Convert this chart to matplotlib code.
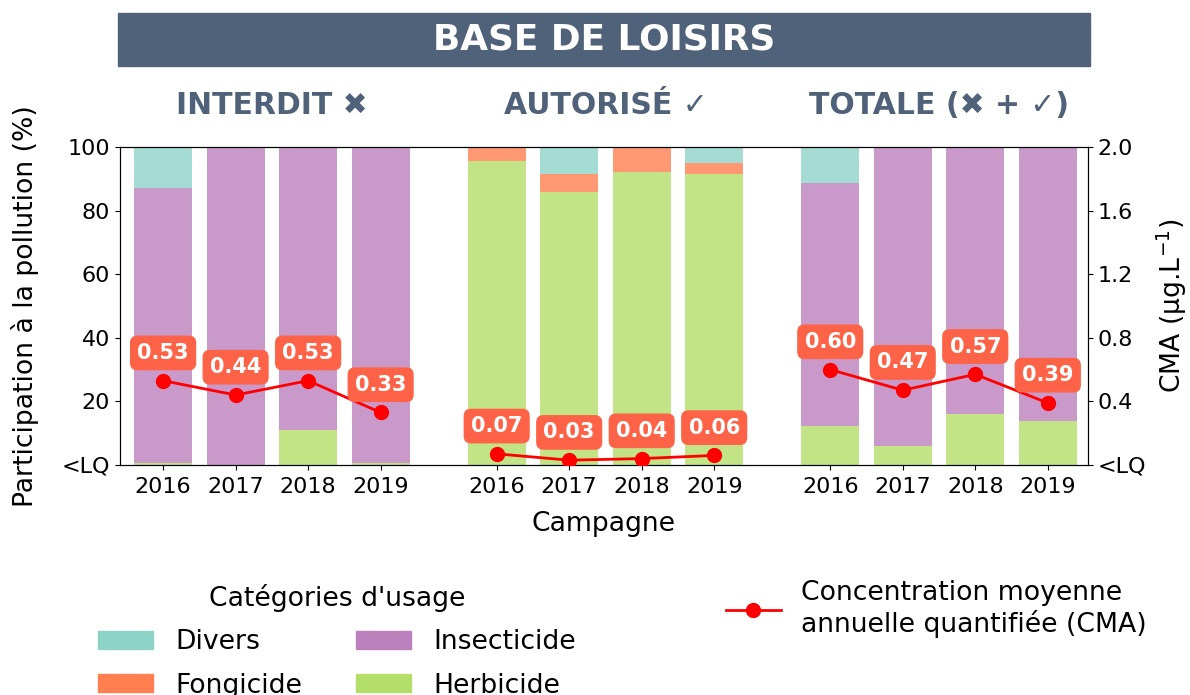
# -*- coding: utf-8 -*-
"""
Base de loisirs : participation des catégories d'usage à la pollution
et concentration moyenne annuelle quantifiée (CMA).
Sortie : out.png
"""
import matplotlib
matplotlib.use('Agg')
import matplotlib.pyplot as plt
from matplotlib.patches import Patch, Rectangle
from matplotlib.lines import Line2D
import numpy as np

# --- Données ---
years = ['2016', '2017', '2018', '2019']
groups = ['INTERDIT ✖', 'AUTORISÉ ✓', 'TOTALE (✖ + ✓)']

# parts (%) par groupe, dans l'ordre des années
herbicide   = [0.5, 0.0, 11.0, 0.5,    95.5, 85.8, 92.0, 91.5,   12.3, 6.0, 16.0, 13.9]
insecticide = [86.5, 100.0, 89.0, 99.5, 0.0, 0.0, 0.0, 0.0,      76.3, 94.0, 83.7, 85.7]
fongicide   = [0.0, 0.0, 0.0, 0.0,     4.5, 5.7, 8.0, 3.4,       0.0, 0.0, 0.3, 0.4]
divers      = [13.0, 0.0, 0.0, 0.0,    0.0, 8.5, 0.0, 5.1,       11.4, 0.0, 0.0, 0.0]

cma = [0.53, 0.44, 0.53, 0.33,   0.07, 0.03, 0.04, 0.06,   0.60, 0.47, 0.57, 0.39]

COLORS = {
    'Divers':      '#8dd3c7',
    'Fongicide':   '#ff7f50',
    'Insecticide': '#bc80bd',
    'Herbicide':   '#b3de69',
}
BANNER = '#4f627a'
FS = 19.2

# --- Positions ---
GAP = 4.6
x = np.concatenate([np.arange(4) + g * GAP for g in range(3)])

fig = plt.figure(figsize=(11.9, 6.95), dpi=100)
ax1 = fig.add_axes([0.1005, 0.331, 0.8135, 0.4575])

bottom = np.zeros(len(x))
for name, vals in [('Herbicide', herbicide), ('Insecticide', insecticide),
                   ('Fongicide', fongicide), ('Divers', divers)]:
    vals = np.array(vals)
    ax1.bar(x, vals, bottom=bottom, width=0.8, color=COLORS[name], alpha=0.8, zorder=2)
    bottom += vals

ax1.set_xlim(-0.6, 12.75)
ax1.set_ylim(0, 100)
ax1.set_yticks([0, 20, 40, 60, 80, 100])
ax1.set_yticklabels(['<LQ', '20', '40', '60', '80', '100'])
ax1.set_xticks(x)
ax1.set_xticklabels(years * 3)
ax1.tick_params(labelsize=16)
ax1.tick_params(axis='x', pad=5.5)
ax1.set_ylabel('Participation à la pollution (%)', fontsize=FS, labelpad=16)
ax1.set_xlabel('Campagne', fontsize=FS, labelpad=10)

# Axe secondaire — CMA
ax2 = ax1.twinx()
ax2.set_ylim(0, 2.0)
ax2.set_yticks([0, 0.4, 0.8, 1.2, 1.6, 2.0])
ax2.set_yticklabels(['<LQ', '0.4', '0.8', '1.2', '1.6', '2.0'])
ax2.tick_params(labelsize=16)
ax2.set_ylabel('CMA (µg.L$^{-1}$)', fontsize=FS, labelpad=6)

for g in range(3):
    sl = slice(4 * g, 4 * g + 4)
    ax2.plot(x[sl], cma[sl], '-o', color='red', lw=2, ms=10, zorder=4)
    for xi, v in zip(x[sl], cma[sl]):
        ax2.annotate(f'{v:.2f}', (xi, v), xytext=(0, 20), textcoords='offset points',
                     ha='center', va='center', fontsize=15, fontweight='bold', color='white',
                     bbox=dict(boxstyle='round,pad=0.32', fc='#ff6347', ec='#ff6347'),
                     zorder=5)

# Titres de groupe
for g, label in enumerate(groups):
    xc = g * GAP + 1.5
    ax1.text(xc, 1.132, label, transform=ax1.get_xaxis_transform(),
             ha='center', va='center', fontsize=21.5, fontweight='bold', color=BANNER)

# Bandeau
fig.patches.append(Rectangle((118 / 1190, 1 - 66 / 695), 972 / 1190, 53 / 695,
                             transform=fig.transFigure, color=BANNER, zorder=0))
fig.text(604 / 1190, 1 - 39 / 695, 'BASE DE LOISIRS', ha='center', va='center',
         fontsize=25.8, fontweight='bold', color='white')

# Légendes
handles = [Patch(color=COLORS[n], label=n) for n in ['Divers', 'Fongicide', 'Insecticide', 'Herbicide']]
fig.legend(handles=handles, ncol=2, title="Catégories d'usage", frameon=False,
           fontsize=FS, title_fontsize=FS, loc='upper center',
           bbox_to_anchor=(337 / 1190, 1 - 560 / 695),
           handlelength=2.06, handleheight=0.66, handletextpad=0.85,
           columnspacing=2.0, labelspacing=0.65)

line_h = Line2D([], [], color='red', marker='o', lw=2, ms=10,
                label='Concentration moyenne\nannuelle quantifiée (CMA)')
fig.legend(handles=[line_h], frameon=False, fontsize=FS, loc='upper left',
           bbox_to_anchor=(702 / 1190, 1 - 556 / 695), handlelength=2.06,
           handletextpad=0.75)

fig.savefig('out.png', dpi=100)
plt.close()
